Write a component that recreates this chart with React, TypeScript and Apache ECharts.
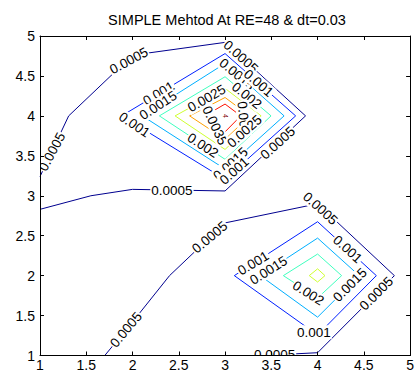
import { useEffect, useRef } from "react";
import * as echarts from "echarts";

// ---- data ----
const TITLE = "SIMPLE Mehtod At RE=48 & dt=0.03";
const X_RANGE = [1, 5];
const Y_RANGE = [1, 5];
const TICK_STEP = 0.5;

const LEVELS = [0.0005, 0.001, 0.0015, 0.002, 0.0025, 0.003, 0.0035, 0.004];

// upper peak (around x=3, y=4)
const top0005 = [[1.0, 3.24], [1.31, 4.0], [2.0, 4.76], [3.0, 4.92], [3.87, 4.0], [3.0, 3.06], [2.0, 3.08], [1.55, 3.0], [1.0, 2.83]];
const top0010 = [[1.883, 4.0], [3.0, 4.78], [3.763, 4.0], [3.0, 3.205], [1.883, 4.0]];
const top0015 = [[2.106, 4.0], [3.0, 4.657], [3.638, 4.0], [3.0, 3.334], [2.106, 4.0]];
const top0020 = [[2.29, 4.0], [3.0, 4.49], [3.497, 4.0], [3.0, 3.456], [2.29, 4.0]];
const top0025 = [[2.46, 4.0], [3.0, 4.344], [3.39, 4.0], [3.0, 3.58], [2.46, 4.0]];
const top0030 = [[2.617, 4.0], [3.0, 4.23], [3.266, 4.0], [3.0, 3.706], [2.617, 4.0]];
const top0035 = [[2.78, 4.0], [3.0, 4.148], [3.17, 4.0], [3.0, 3.8], [2.78, 4.0]];

// lower peak (around x=4, y=2)
const low0005 = [[1.7, 1.0], [2.0, 1.42], [2.4, 2.0], [3.0, 2.66], [4.0, 2.9], [4.83, 2.0], [4.0, 1.035], [3.4, 1.0]];
const low0010 = [[3.1, 2.0], [4.0, 2.675], [4.635, 2.0], [4.0, 1.257], [3.1, 2.0]];
const low0015 = [[3.38, 2.0], [4.0, 2.47], [4.45, 2.0], [4.0, 1.48], [3.38, 2.0]];
const low0020 = [[3.63, 2.0], [4.0, 2.27], [4.26, 2.0], [4.0, 1.72], [3.63, 2.0]];
const low0025 = [[3.91, 2.0], [4.0, 2.085], [4.08, 2.0], [4.0, 1.92], [3.91, 2.0]];

const CONTOURS: { level: number; pts: number[][] }[] = [
  { level: 0.0005, pts: top0005 },
  { level: 0.001, pts: top0010 },
  { level: 0.0015, pts: top0015 },
  { level: 0.002, pts: top0020 },
  { level: 0.0025, pts: top0025 },
  { level: 0.003, pts: top0030 },
  { level: 0.0035, pts: top0035 },
  { level: 0.0005, pts: low0005 },
  { level: 0.001, pts: low0010 },
  { level: 0.0015, pts: low0015 },
  { level: 0.002, pts: low0020 },
  { level: 0.0025, pts: low0025 },
];

// contour labels: text, x, y, angle (deg, counter-clockwise)
const LABELS: [string, number, number, number][] = [
  ["0.0005", 1.96, 4.69, 28],
  ["0.0005", 1.13, 3.55, 62],
  ["0.0005", 2.426, 3.07, 0],
  ["0.0005", 3.17, 4.74, -42],
  ["0.0005", 3.57, 3.66, 42],
  ["0.001", 2.282, 4.28, 31],
  ["0.0015", 2.277, 4.13, 33],
  ["0.001", 2.02, 3.89, -34],
  ["0.002", 2.76, 3.63, -33],
  ["0.0025", 2.8, 4.22, 30],
  ["0.0015", 3.128, 4.52, -40],
  ["0.001", 3.362, 4.41, -41],
  ["0.002", 3.234, 4.255, -39],
  ["0.003", 3.2, 3.97, -85],
  ["0.0035", 2.89, 3.88, -65],
  ["0.0025", 3.21, 3.806, 42],
  ["0.0015", 3.06, 3.4, 42],
  ["0.001", 3.1, 3.31, 42],
  ["0.0005", 4.03, 2.84, -42],
  ["0.001", 4.325, 2.33, -42],
  ["0.001", 3.305, 2.154, 31],
  ["0.0015", 3.47, 2.065, 32],
  ["0.0015", 4.35, 1.884, 45],
  ["0.002", 3.9, 1.78, -32],
  ["0.0005", 4.635, 1.775, 45],
  ["0.001", 3.96, 1.29, 0],
  ["0.0005", 3.535, 1.0125, 0],
  ["0.0005", 1.93, 1.322, 50],
  ["0.0005", 2.835, 2.479, 40],
];

// the innermost (0.004) mark at the upper peak
const PEAK_MARK: [string, number, number][] = [["4", 3.0, 4.0]];

// ---- styling ----
const JET = ["#00008F", "#0020FF", "#00AFFF", "#40FFBF", "#CFFF30", "#FF9F00", "#FF1000", "#800000"];
const FONT = '"Liberation Sans", Arial, Helvetica, sans-serif';
const colorOf = (lv: number) => JET[LEVELS.indexOf(lv)];

export default function App() {
  const ref = useRef<HTMLDivElement>(null);
  useEffect(() => {
    if (!ref.current) return;
    const chart = echarts.init(ref.current, undefined, { renderer: "svg" });
    const axisCommon = {
      type: "value" as const,
      interval: TICK_STEP,
      z: 10,
      axisLine: { show: true, onZero: false, lineStyle: { color: "#000", width: 1 } },
      axisTick: { show: true, inside: true, length: 4, lineStyle: { color: "#000" } },
      splitLine: { show: false },
    };
    const lineSeries = CONTOURS.map((c) => ({
      type: "line",
      data: c.pts,
      symbol: "none",
      showSymbol: false,
      silent: true,
      z: 2,
      lineStyle: { color: colorOf(c.level), width: 1 },
    }));
    chart.setOption({
      animation: false,
      title: {
        text: TITLE,
        left: 227,
        top: 12,
        padding: 0,
        textAlign: "center",
        textStyle: { fontSize: 14.5, fontWeight: "normal", color: "#000", fontFamily: FONT },
      },
      grid: { left: 40, right: 1, top: 36, bottom: 16.5 },
      xAxis: [
        { ...axisCommon, min: X_RANGE[0], max: X_RANGE[1], position: "bottom",
          axisLabel: { color: "#000", fontSize: 14, fontFamily: FONT, margin: 2 } },
        { ...axisCommon, min: X_RANGE[0], max: X_RANGE[1], position: "top", axisLabel: { show: false } },
      ],
      yAxis: [
        { ...axisCommon, min: Y_RANGE[0], max: Y_RANGE[1], position: "left",
          axisLabel: { color: "#000", fontSize: 14, fontFamily: FONT, margin: 5 } },
        { ...axisCommon, min: Y_RANGE[0], max: Y_RANGE[1], position: "right", axisLabel: { show: false } },
      ],
      series: [
        ...lineSeries,
        {
          type: "custom",
          coordinateSystem: "cartesian2d",
          clip: true,
          silent: true,
          z: 5,
          data: LABELS.map((l) => [l[1], l[2]]),
          renderItem: (params: any, api: any) => {
            const l = LABELS[params.dataIndex];
            const p = api.coord([l[1], l[2]]);
            return {
              type: "text",
              x: p[0],
              y: p[1],
              rotation: (l[3] * Math.PI) / 180,
              style: {
                text: l[0],
                fill: "#000",
                font: `13.5px ${FONT}`,
                align: "center",
                verticalAlign: "middle",
                backgroundColor: "#fff",
                padding: [0, 1],
              },
            };
          },
        },
        {
          type: "custom",
          coordinateSystem: "cartesian2d",
          clip: true,
          silent: true,
          z: 6,
          data: PEAK_MARK.map((l) => [l[1], l[2]]),
          renderItem: (params: any, api: any) => {
            const l = PEAK_MARK[params.dataIndex];
            const p = api.coord([l[1], l[2]]);
            return {
              type: "text",
              x: p[0],
              y: p[1],
              rotation: -Math.PI / 2,
              style: {
                text: l[0],
                fill: JET[7],
                font: `7px ${FONT}`,
                align: "center",
                verticalAlign: "middle",
              },
            };
          },
        },
      ],
    });
    return () => chart.dispose();
  }, []);
  return (
    <div
      ref={ref}
      style={{ position: "fixed", left: 0, top: 0, width: 417, height: 372, background: "#fff" }}
    />
  );
}
